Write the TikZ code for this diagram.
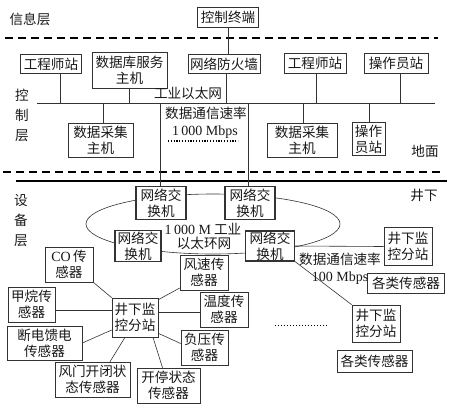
\documentclass[tikz,border=0pt]{standalone}
\usepackage{fontspec}
\setmainfont{Liberation Serif}
\newfontfamily\cjk{Noto Sans CJK SC}
\usetikzlibrary{calc}
\begin{document}
\begin{tikzpicture}[x=1pt,y=-1pt,
  box/.style={draw=black!80, line width=0.6pt, fill=white, align=center, inner sep=0.5pt,
    font=\cjk\fontsize{13.6}{16}\selectfont, text=black!90},
  sz/.style 2 args={minimum width=#1pt, minimum height=#2pt},
  swbox/.style={box, line width=1.1pt},
  lbl/.style={font=\cjk\fontsize{13.6}{16}\selectfont, text=black!90, inner sep=0pt, align=center},
  vlbl/.style={lbl, font=\cjk\fontsize{13.6}{20}\selectfont},
  ln/.style={draw=black!80, line width=0.6pt},
  dashline/.style={draw=black, line width=1.3pt, dash pattern=on 8pt off 5pt},
  dotline/.style={draw=black, line width=1.3pt, dash pattern=on 1.2pt off 1.6pt}]
\useasboundingbox (0,0) rectangle (450,416);

% ---- information layer
\node[lbl] (xinxi) at (30,19) {信息层};
\node[box,sz={61}{20}] (term) at (228,17) {控制终端};
\coordinate (da1) at (5,38); \coordinate (da2) at (438,38);
\draw[dashline] (da1) -- (da2);

% ---- control layer
\node[box,sz={61}{19}] (eng1) at (51,64) {工程师站};
\node[box,sz={75}{36}] (db) at (129.5,70.5) {数据库服务\\主机};
\node[box,sz={72}{19}] (fw) at (224,64) {网络防火墙};
\node[box,sz={62}{20}] (eng2) at (315,63) {工程师站};
\node[box,sz={64}{20}] (op1) at (396,63) {操作员站};
\node[box,sz={65}{34}] (dac1) at (100.5,140) {数据采集\\主机};
\node[box,sz={70}{34}] (dac2) at (302,140) {数据采集\\主机};
\node[box,sz={33}{33}] (op2) at (368.5,139) {操作\\员站};

\node[vlbl] (kz) at (22,115) {控\\制\\层};
\node[lbl] (ethlbl) at (188,93) {工业以太网};
\node[lbl] (rate1) at (206,113) {数据通信速率};
\node[lbl] (rate1b) at (205,132) {\rmfamily\fontsize{14}{16}\selectfont 1\,000 Mbps};
\coordinate (dt1) at (168,141); \coordinate (dt2) at (238,141);
\draw[dotline] (dt1) -- (dt2);
\node[lbl] (dimian) at (425,151) {地面};

\draw[ln] (term.south) -- (term.south |- fw.north);

\coordinate (busL) at (37,103); \coordinate (busR) at (435,103);
\draw[ln] (busL) -- (busR);
\coordinate (b1) at (60,103);
\coordinate (b2) at (129,103);
\coordinate (b3) at (226,103);
\coordinate (b4) at (316,103);
\coordinate (b5) at (400,103);
\coordinate (b6) at (103,103);
\coordinate (b7) at (160,103);
\coordinate (b8) at (248,103);
\coordinate (b9) at (303,103);
\coordinate (b10) at (369,103);
\draw[ln] (b1) -- (b1 |- eng1.south);
\draw[ln] (b2) -- (b2 |- db.south);
\draw[ln] (b3) -- (b3 |- fw.south);
\draw[ln] (b4) -- (b4 |- eng2.south);
\draw[ln] (b5) -- (b5 |- op1.south);
\draw[ln] (b6) -- (b6 |- dac1.north);
\draw[ln] (b9) -- (b9 |- dac2.north);
\draw[ln] (b10) -- (b10 |- op2.north);

\coordinate (db1) at (3,172); \coordinate (db2) at (442,172);
\draw[dashline] (db1) -- (db2);
\coordinate (th1) at (16,181); \coordinate (th2) at (447,181);
\draw[draw=black, line width=2.2pt] (th1) -- (th2);

% ---- device layer
\node[lbl] (jingxia) at (424,195) {井下};
\node[vlbl] (sb) at (21,221) {设\\备\\层};

\coordinate (ringc) at (213,224);
\draw[ln] (ringc) ellipse [x radius=127, y radius=30];

\node[swbox,sz={50}{33}] (sw1) at (161,203) {网络交\\换机};
\node[swbox,sz={50}{33}] (sw2) at (250,203) {网络交\\换机};
\node[swbox,sz={46}{31}] (sw3) at (138,246) {网络交\\换机};
\node[swbox,sz={49}{30}] (sw4) at (270,246) {网络交\\换机};
\draw[ln] (b7) -- (b7 |- sw1.north);
\draw[ln] (b8) -- (b8 |- sw2.north);

\node[lbl] (ring1) at (203,229) {{\rmfamily\fontsize{14}{16}\selectfont 1\,000 M} 工业};
\node[lbl] (ring2) at (204,243) {以太环网};

\node[box,sz={48}{38}] (st1) at (408,246.5) {井下监\\控分站};
\node[box,sz={77}{20}] (sens1) at (406,283) {各类传感器};
\node[box,sz={48}{37}] (st2) at (376,323.5) {井下监\\控分站};
\node[box,sz={75}{22}] (sens2) at (374.5,361) {各类传感器};
\node[lbl] (rate2) at (340,259) {数据通信速率};
\node[lbl] (rate2b) at (340,278) {\rmfamily\fontsize{14}{16}\selectfont 100 Mbps};
\draw[ln] (sw4.east) -- (st1.west);
\draw[ln] (sw4.south east) -- (st2.north west);
\coordinate (dt3) at (275,325); \coordinate (dt4) at (328,325);
\draw[draw=black, line width=1pt, dash pattern=on 1.2pt off 1.8pt] (dt3) -- (dt4);

% ---- sensor cluster
\node[box,sz={46}{39}] (st0) at (135,317.5) {井下监\\控分站};
\node[box,sz={48}{35}] (co) at (69,264.5) {{\rmfamily\fontsize{14}{16}\selectfont CO}\,传\\感器};
\node[box,sz={48}{35}] (fs) at (204,272.5) {风速传\\感器};
\node[box,sz={47}{35}] (ch4) at (31.5,304.5) {甲烷传\\感器};
\node[box,sz={48}{35}] (temp) at (224,309.5) {温度传\\感器};
\node[box,sz={75}{34}] (dd) at (44.5,343) {断电馈电\\传感器};
\node[box,sz={47}{35}] (fy) at (204.5,347.5) {负压传\\感器};
\node[box,sz={75}{35}] (fm) at (92.5,379.5) {风门开闭状\\态传感器};
\node[box,sz={63}{35}] (kt) at (168.5,385.5) {开停状态\\传感器};

\draw[ln] (co.south east) -- (st0.north west);
\coordinate (m1) at ($(ch4.east)+(0,5.5)$);
\draw[ln] (m1) -- (m1 -| st0.west);
\draw[ln] (dd.east) -- ($(st0.west)+(0,12.5)$);
\draw[ln] ($(st0.south)+(-10,0)$) -- ($(fm.north)+(17.5,0)$);
\draw[ln] ($(st0.south)+(18,0)$) -- ($(kt.north)+(-6,0)$);
\draw[ln] ($(st0.south east)+(0,-4)$) -- ($(fy.west)+(0,-4)$);
\coordinate (m2) at ($(temp.west)+(0,2.5)$);
\draw[ln] (m2) -- (m2 -| st0.east);
\draw[ln] ($(st0.north east)+(0,2)$) -- ($(fs.west)+(0,15.5)$);
\end{tikzpicture}
\end{document}
